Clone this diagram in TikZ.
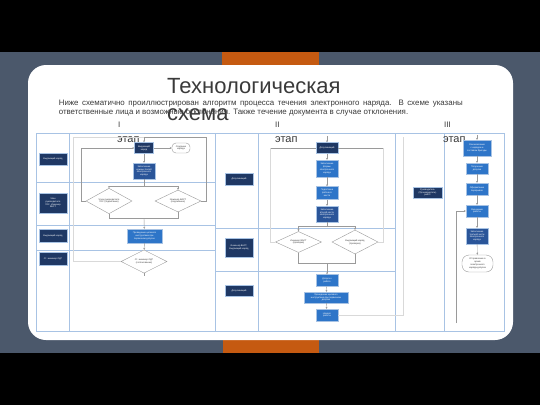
\documentclass[tikz,border=0pt]{standalone}
\usepackage{fontspec}
\setmainfont{Liberation Sans}
\usetikzlibrary{shapes.geometric,arrows.meta}
\definecolor{slate}{HTML}{4B586B}
\definecolor{orng}{HTML}{C55A11}
\definecolor{navy}{HTML}{1F3864}
\definecolor{mblue}{HTML}{2E75C8}
\definecolor{dblue}{HTML}{2A5599}
\definecolor{tline}{HTML}{A8C3E4}
\definecolor{ttext}{HTML}{3A3A3A}
\definecolor{cline}{HTML}{9A9A9A}
\newcommand{\tinyf}{\fontsize{2.3}{2.8}\selectfont}
\tikzset{
 boxbase/.style={draw=tline, line width=0.3pt, text=white, font=\tinyf, align=center, inner sep=0.5pt},
 lanebox/.style={boxbase, fill=navy, minimum width=28pt},
 navybox/.style={boxbase, fill=navy},
 bbox/.style={boxbase, fill=mblue},
 dbbox/.style={boxbase, fill=dblue},
 term/.style={draw=cline, line width=0.4pt, fill=white, text=ttext, font=\tinyf, align=center, inner sep=0.5pt, rounded corners=4pt},
 dia/.style={diamond, draw=cline, line width=0.4pt, fill=white, text=ttext, font=\tinyf, align=center, inner sep=0pt},
 conn/.style={draw=cline, line width=0.4pt, -{Stealth[length=2pt,width=2pt]}},
 plainline/.style={draw=cline, line width=0.4pt},
 faintline/.style={draw=black!15, line width=0.4pt},
 tableline/.style={draw=tline, line width=0.8pt},
 stagenum/.style={anchor=base west, inner sep=0, text=ttext, font=\fontsize{8}{9}\selectfont},
 etaplbl/.style={anchor=base west, inner sep=0, text=ttext, font=\fontsize{11}{12}\selectfont},
 titlelbl/.style={anchor=base west, inner sep=0, text=ttext, font=\fontsize{22}{27}\selectfont}
}
\begin{document}
\begin{tikzpicture}[x=1pt,y=-1pt]
\useasboundingbox (0,0) rectangle (540,405);
% backgrounds
\fill[black] (0,0) rectangle (540,405);
\fill[slate] (0,52) rectangle (540,353);
\fill[orng] (222,52) rectangle (319,66);
\fill[orng] (223,338) rectangle (319,353);
\fill[white, rounded corners=18pt] (28,65) rectangle (513,340);

% title and text
\node[titlelbl] (title1) at (167,93) {Технологическая};
\node[titlelbl] (title2) at (167,120) {схема};
\node[anchor=north west, inner sep=0, text width=404pt, align=justify, text=ttext,
      font=\fontsize{7.9}{9}\selectfont] (para) at (58.6,99.8)
 {Ниже схематично проиллюстрирован алгоритм процесса течения электронного наряда. В схеме указаны\linebreak ответственные лица и возможные отклонения. Также течение документа в случае отклонения.};

% table
\draw[tableline] (36,133) rectangle (504,331);
\foreach \xx in {69,215,258,395,444} \draw[tableline] (\xx,133) -- (\xx,331);
\foreach \yy in {182,225,250} \draw[tableline] (36,\yy) -- (215,\yy);
\foreach \yy in {228,271} \draw[tableline] (215,\yy) -- (395,\yy);

% stage labels
\node[stagenum] (sI) at (118,127.5) {I};
\node[etaplbl] (eI) at (117,142) {этап};
\node[stagenum] (sII) at (275,127.5) {II};
\node[etaplbl] (eII) at (275,142) {этап};
\node[stagenum] (sIII) at (444,127.5) {III};
\node[etaplbl] (eIII) at (443,142) {этап};

% lane labels
\node[lanebox, minimum height=12pt] (lI1) at (53,159) {Выдающий наряд};
\node[lanebox, minimum height=20pt] (lI2) at (53,203) {Член\\руководителя\\ГОС, Инженер\\ВАСТ};
\node[lanebox, minimum height=13pt] (lI3) at (53,235.5) {Выдающий наряд};
\node[lanebox, minimum height=13pt] (lI4) at (53,258.5) {Ст. инженер ОДГ};
\node[lanebox, minimum height=12pt] (lII1) at (239,179) {Допускающий};
\node[lanebox, minimum height=19pt] (lII2) at (239,247.5) {Инженер ВАСТ,\\Выдающий наряд};
\node[lanebox, minimum height=11pt] (lII3) at (239,290.5) {Допускающий};
\node[lanebox, minimum height=11pt, minimum width=29pt] (lIII1) at (427.5,192.5) {Руководитель\\(Производитель)\\работ};

% stage I flow
\node[navybox, minimum width=19pt, minimum height=11pt] (i1) at (144,148) {Выдающий\\наряд};
\node[term, minimum width=18pt, minimum height=10pt] (iT) at (181,148) {Создание\\наряда};
\node[dbbox, minimum width=22pt, minimum height=16pt] (i2) at (144,171) {Заполнение\\нужных полей\\электронного\\наряда};
\node[dia, minimum width=46pt, minimum height=22pt] (d1) at (109,201) {Член руководителя\\ГОС (подписание)};
\node[dia, minimum width=46pt, minimum height=22pt] (d2) at (178,201) {Инженер ВАСТ\\(подписание)};
\node[bbox, minimum width=35pt, minimum height=14pt] (i3) at (144.5,236) {Проведение целевого\\инструктажа при\\первичном допуске};
\node[dia, minimum width=46pt, minimum height=21pt] (d3) at (144,261.5) {Ст. инженер ОДГ\\(согласование)};

\draw[conn] (i1) -- (iT);
\draw[conn] (i1) -- (i2);
\coordinate (j1) at (144,186);
\coordinate (j1l) at (109,186);
\coordinate (j1r) at (178,186);
\draw[plainline] (i2) -- (j1);
\draw[plainline] (j1l) -- (j1r);
\draw[conn] (j1l) -- (d1);
\draw[conn] (j1r) -- (d2);
\coordinate (j2) at (144,218);
\coordinate (j2l) at (109,218);
\coordinate (j2r) at (178,218);
\draw[plainline] (d1.south) -- (j2l) -- (j2r) -- (d2.south);
\draw[conn] (j2) -- (i3);
\draw[conn] (i3) -- (d3);
\coordinate (d3e) at (144,276);
\draw[plainline] (d3.south) -- (d3e);
\coordinate (lpA) at (81,201);
\coordinate (lpB) at (81,148);
\draw[conn] (d1.west) -- (lpA) -- (lpB) -- (i1.west);
\coordinate (rpA) at (206,201);
\coordinate (rpB) at (206,137);
\coordinate (rpC) at (144,137);
\draw[conn] (d2.east) -- (rpA) -- (rpB) -- (rpC) -- (i1.north);
\coordinate (llA) at (73,261.5);
\coordinate (llB) at (73,137);
\draw[faintline] (d3.west) -- (llA) -- (llB) -- (rpC);

% stage II flow
\node[navybox, minimum width=22pt, minimum height=11pt] (ii1) at (327,148) {Допускающий};
\node[bbox, minimum width=22pt, minimum height=17pt] (ii2) at (327,168.5) {Заполнение\\формы\\электронного\\наряда};
\node[bbox, minimum width=22pt, minimum height=13pt] (ii3) at (327,193) {Подготовка\\рабочего\\места};
\node[dbbox, minimum width=22pt, minimum height=16pt] (ii4) at (327,214) {Заполнение\\второй части\\электронного\\наряда};
\node[dia, minimum width=46pt, minimum height=20pt] (dd1) at (298.5,242) {Инженер ВАСТ\\(проверка)};
\node[dia, minimum width=46pt, minimum height=20pt] (dd2) at (355,242) {Выдающий наряд\\(проверка)};
\node[bbox, minimum width=22pt, minimum height=12pt] (ii5) at (327,280.5) {Допуск к\\работе};
\node[bbox, minimum width=44pt, minimum height=11pt] (ii6) at (326,297.5) {Проведение целевого\\инструктажа при первичном\\допуске};
\node[bbox, minimum width=22pt, minimum height=12pt] (ii7) at (327,315) {Начало\\работы};

\coordinate (t2) at (327,136);
\draw[conn] (t2) -- (ii1);
\coordinate (h2l) at (270,148);
\coordinate (h2r) at (383,148);
\coordinate (h2lb) at (270,242);
\coordinate (h2rb) at (383,242);
\draw[plainline] (h2l) -- (ii1.west);
\draw[plainline] (ii1.east) -- (h2r);
\draw[faintline] (dd1.west) -- (h2lb) -- (h2l);
\draw[faintline] (dd2.east) -- (h2rb) -- (h2r);
\draw[conn] (ii1) -- (ii2);
\draw[conn] (ii2) -- (ii3);
\draw[conn] (ii3) -- (ii4);
\coordinate (j3) at (327,226);
\coordinate (j3l) at (298.5,226);
\coordinate (j3r) at (355,226);
\draw[plainline] (ii4) -- (j3);
\draw[plainline] (j3l) -- (j3r);
\draw[conn] (j3l) -- (dd1);
\draw[conn] (j3r) -- (dd2);
\coordinate (j4) at (327,263);
\coordinate (j4l) at (298.5,263);
\coordinate (j4r) at (355,263);
\draw[plainline] (dd1.south) -- (j4l) -- (j4r) -- (dd2.south);
\draw[conn] (j4) -- (ii5);
\draw[conn] (ii5) -- (ii6);
\draw[conn] (ii6) -- (ii7);
\coordinate (r1) at (403,315);
\coordinate (r2) at (403,137);
\draw[faintline] (ii7.east) -- (r1) -- (r2);

% stage III flow
\node[bbox, minimum width=28pt, minimum height=16pt] (iii1) at (477,148) {Ознакомление\\с нарядом и\\составом бригады};
\node[bbox, minimum width=22pt, minimum height=11pt] (iii2) at (477,168.5) {Получение\\допуска};
\node[bbox, minimum width=22pt, minimum height=12pt] (iii3) at (477,189) {Оформление\\перерывов};
\node[bbox, minimum width=22pt, minimum height=12pt] (iii4) at (477,211) {Окончание\\работы};
\node[dbbox, minimum width=22pt, minimum height=16pt] (iii5) at (477,236) {Заполнение\\третьей части\\электронного\\наряда};
\node[term, minimum width=31pt, minimum height=17pt, rounded corners=7pt] (iiiT) at (477.5,263.5) {Отправление в\\архив\\электронного\\наряда-допуска};

\coordinate (t3) at (477,135);
\draw[conn] (t3) -- (iii1);
\draw[conn] (iii1) -- (iii2);
\draw[conn] (iii2) -- (iii3);
\draw[conn] (iii3) -- (iii4);
\draw[conn] (iii4) -- (iii5);
\draw[conn] (iii5) -- (iiiT);
\coordinate (l3a) at (456,323);
\coordinate (l3b) at (456,211);
\draw[conn] (l3a) -- (l3b) -- (iii4.west);
\end{tikzpicture}
\end{document}
